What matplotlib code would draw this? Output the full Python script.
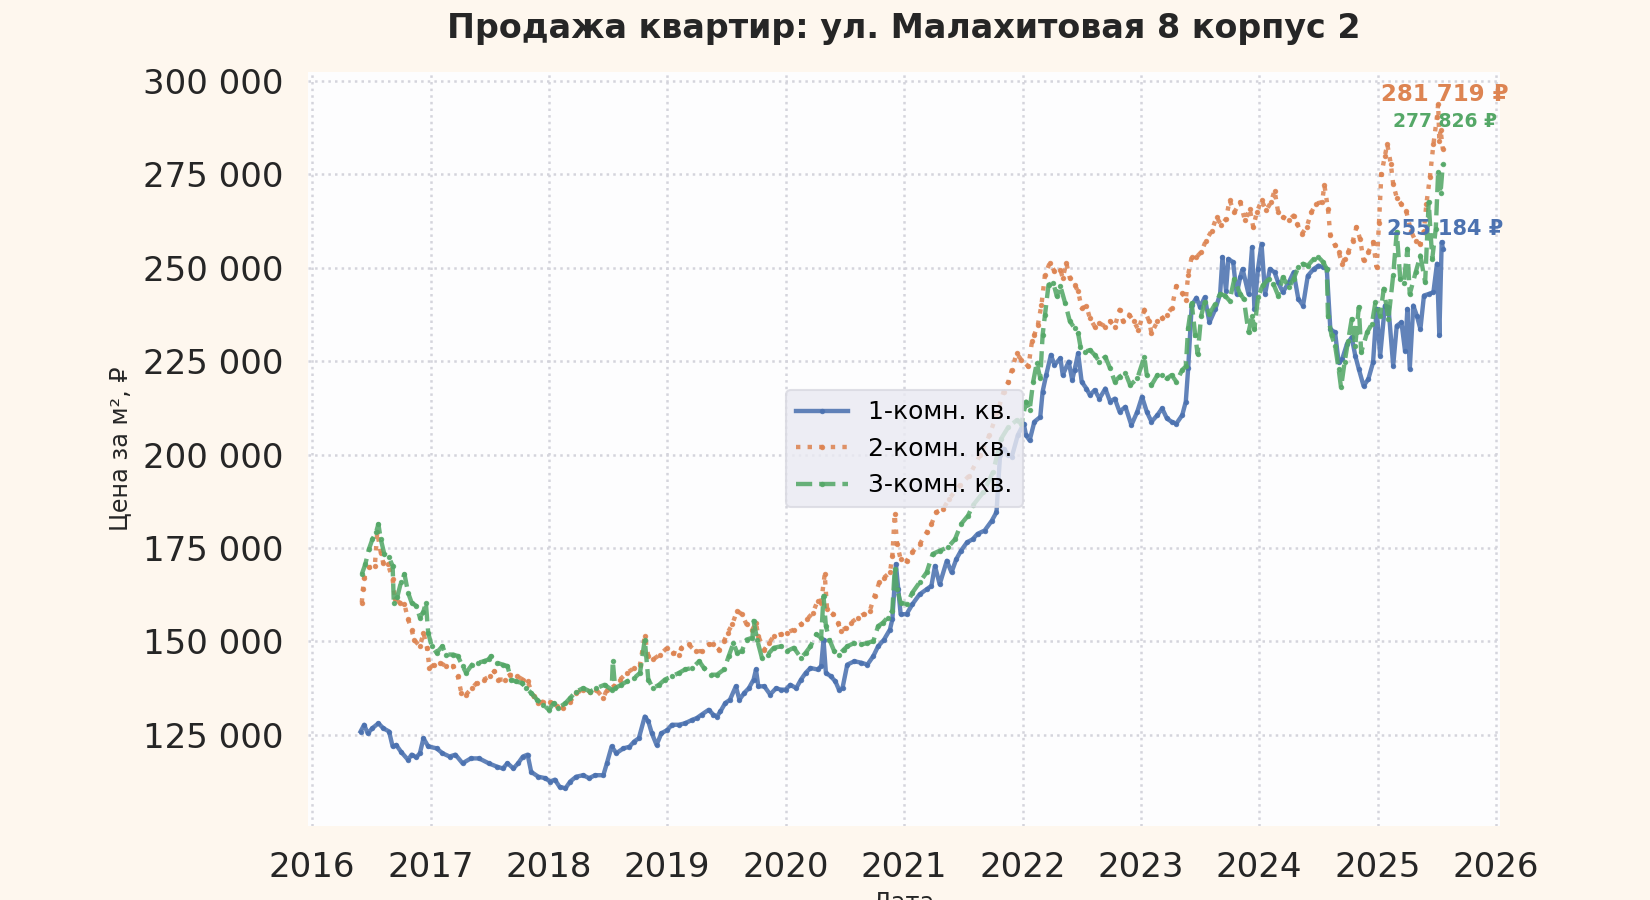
import matplotlib
matplotlib.use("Agg")
import matplotlib.pyplot as plt
import matplotlib.dates as mdates
import matplotlib.ticker as mticker
import pandas as pd
import numpy as np

TITLE = "Продажа квартир: ул. Малахитовая 8 корпус 2"
SERIES_NAMES = ["1-комн. кв.", "2-комн. кв.", "3-комн. кв."]
X_LABEL = "Дата"
Y_LABEL = "Цена за м², ₽"

# decimal-year time stamps and price per m2
one_room_t = [2016.41, 2016.44, 2016.47, 2016.51, 2016.56, 2016.60, 2016.65, 2016.68, 2016.71, 2016.75,
              2016.81, 2016.84, 2016.88, 2016.91, 2016.94, 2016.98, 2017.05, 2017.10, 2017.16, 2017.21,
              2017.27, 2017.34, 2017.41, 2017.49, 2017.56, 2017.61, 2017.65, 2017.70, 2017.74, 2017.78,
              2017.82, 2017.85, 2017.91, 2017.97, 2018.01, 2018.05, 2018.09, 2018.14, 2018.18, 2018.23,
              2018.29, 2018.34, 2018.39, 2018.46, 2018.49, 2018.53, 2018.57, 2018.63, 2018.68, 2018.72,
              2018.76, 2018.81, 2018.84, 2018.87, 2018.91, 2018.95, 2019.00, 2019.04, 2019.10, 2019.15,
              2019.21, 2019.25, 2019.29, 2019.35, 2019.39, 2019.42, 2019.45, 2019.49, 2019.53, 2019.58,
              2019.61, 2019.65, 2019.69, 2019.73, 2019.75, 2019.77, 2019.82, 2019.87, 2019.92, 2019.96,
              2020.00, 2020.04, 2020.09, 2020.13, 2020.17, 2020.21, 2020.27, 2020.30, 2020.32, 2020.34,
              2020.38, 2020.42, 2020.45, 2020.48, 2020.52, 2020.58, 2020.64, 2020.69, 2020.74, 2020.78,
              2020.83, 2020.88, 2020.90, 2020.93, 2020.95, 2020.97, 2021.02, 2021.07, 2021.13, 2021.19,
              2021.23, 2021.26, 2021.30, 2021.36, 2021.40, 2021.44, 2021.48, 2021.53, 2021.58, 2021.62,
              2021.68, 2021.74, 2021.78, 2021.81, 2021.84, 2021.88, 2021.91, 2021.96, 2022.01, 2022.03,
              2022.06, 2022.10, 2022.15, 2022.17, 2022.20, 2022.24, 2022.27, 2022.32, 2022.34, 2022.39,
              2022.42, 2022.44, 2022.47, 2022.50, 2022.54, 2022.57, 2022.61, 2022.65, 2022.70, 2022.74,
              2022.78, 2022.82, 2022.87, 2022.92, 2022.97, 2023.01, 2023.05, 2023.09, 2023.14, 2023.18,
              2023.22, 2023.26, 2023.30, 2023.35, 2023.38, 2023.40, 2023.43, 2023.47, 2023.50, 2023.54,
              2023.58, 2023.63, 2023.67, 2023.69, 2023.72, 2023.74, 2023.78, 2023.81, 2023.84, 2023.86,
              2023.91, 2023.94, 2023.96, 2023.99, 2024.02, 2024.05, 2024.09, 2024.13, 2024.16, 2024.20,
              2024.25, 2024.29, 2024.33, 2024.37, 2024.41, 2024.46, 2024.50, 2024.54, 2024.57, 2024.60,
              2024.64, 2024.67, 2024.70, 2024.74, 2024.78, 2024.81, 2024.84, 2024.88, 2024.92, 2024.96,
              2024.99, 2025.02, 2025.06, 2025.09, 2025.13, 2025.16, 2025.20, 2025.23, 2025.25, 2025.27,
              2025.30, 2025.33, 2025.36, 2025.39, 2025.43, 2025.47, 2025.50, 2025.52, 2025.54, 2025.55]
one_room_v = [125900, 127700, 125400, 126800, 128100, 126800, 125900, 121900, 122300, 120500,
              118300, 119700, 119000, 120100, 124100, 121900, 121400, 120100, 119200, 119700,
              117400, 118700, 118700, 117400, 116500, 116000, 117400, 116000, 117400, 119200,
              119700, 115100, 113800, 113400, 112500, 113000, 111100, 110700, 112500, 113800,
              114200, 113400, 114200, 114200, 117400, 121900, 120100, 121400, 121800, 123200,
              124100, 129900, 128600, 125400, 122300, 125400, 126300, 127700, 127700, 128100,
              129000, 129500, 130400, 131700, 130400, 129900, 131300, 133500, 134400, 138000,
              134400, 136200, 137500, 139800, 142500, 138000, 138000, 135800, 137500, 137100,
              137100, 138400, 137500, 139800, 141600, 142900, 142500, 143400, 150500, 141600,
              140700, 139300, 137100, 137500, 143800, 144700, 144300, 143800, 146100, 148700,
              150500, 153200, 155900, 170700, 164000, 157300, 157300, 160000, 162600, 164000,
              164900, 170200, 165300, 171600, 168500, 172000, 174300, 176500, 177400, 178800,
              179700, 182300, 184600, 199800, 201600, 200000, 199500, 205200, 208300, 205200,
              203800, 208800, 210100, 216900, 221300, 226700, 224000, 225800, 221300, 224900,
              220000, 222700, 227100, 219500, 217700, 215900, 217300, 215000, 217700, 214200,
              215000, 211500, 212800, 207900, 211500, 215500, 211500, 208800, 210600, 212400,
              209700, 208800, 208300, 210600, 214200, 223100, 240000, 242000, 239500, 242100,
              235400, 239000, 243000, 252900, 243900, 252400, 251500, 243000, 247500, 249700,
              243000, 255500, 239000, 249700, 256400, 243000, 249700, 248800, 246100, 243500,
              246100, 248800, 241700, 239900, 247900, 249700, 250600, 250200, 249700, 233600,
              232700, 224700, 225600, 229600, 231400, 226500, 222900, 218400, 220200, 224700,
              239000, 226500, 239900, 239500, 223800, 234500, 235400, 227800, 239000, 222900,
              239900, 237200, 233600, 242600, 243000, 243500, 251100, 231900, 256900, 255184]

two_room_t = [2016.42, 2016.43, 2016.44, 2016.48, 2016.53, 2016.55, 2016.58, 2016.60, 2016.64, 2016.68,
              2016.70, 2016.74, 2016.78, 2016.81, 2016.84, 2016.86, 2016.91, 2016.94, 2016.97, 2016.99,
              2017.03, 2017.08, 2017.13, 2017.19, 2017.23, 2017.26, 2017.30, 2017.35, 2017.39, 2017.45,
              2017.50, 2017.54, 2017.57, 2017.63, 2017.67, 2017.73, 2017.78, 2017.82, 2017.87, 2017.91,
              2017.95, 2018.01, 2018.07, 2018.12, 2018.18, 2018.23, 2018.29, 2018.35, 2018.40, 2018.46,
              2018.49, 2018.55, 2018.60, 2018.66, 2018.72, 2018.77, 2018.81, 2018.84, 2018.88, 2018.94,
              2019.00, 2019.05, 2019.10, 2019.12, 2019.18, 2019.24, 2019.29, 2019.35, 2019.39, 2019.44,
              2019.48, 2019.51, 2019.55, 2019.59, 2019.63, 2019.67, 2019.72, 2019.75, 2019.77, 2019.82,
              2019.86, 2019.90, 2019.96, 2020.01, 2020.07, 2020.13, 2020.18, 2020.23, 2020.27, 2020.30,
              2020.33, 2020.35, 2020.40, 2020.44, 2020.47, 2020.51, 2020.55, 2020.61, 2020.66, 2020.71,
              2020.75, 2020.79, 2020.83, 2020.88, 2020.90, 2020.92, 2020.94, 2020.97, 2021.02, 2021.07,
              2021.13, 2021.19, 2021.23, 2021.27, 2021.33, 2021.38, 2021.47, 2021.55, 2021.64, 2021.72,
              2021.79, 2021.84, 2021.88, 2021.91, 2021.95, 2021.99, 2022.05, 2022.08, 2022.10, 2022.13,
              2022.16, 2022.19, 2022.23, 2022.27, 2022.32, 2022.34, 2022.37, 2022.40, 2022.44, 2022.47,
              2022.50, 2022.54, 2022.57, 2022.61, 2022.65, 2022.70, 2022.74, 2022.78, 2022.82, 2022.85,
              2022.90, 2022.94, 2022.98, 2023.03, 2023.07, 2023.09, 2023.14, 2023.18, 2023.22, 2023.26,
              2023.30, 2023.35, 2023.38, 2023.40, 2023.43, 2023.47, 2023.51, 2023.55, 2023.60, 2023.64,
              2023.68, 2023.72, 2023.75, 2023.79, 2023.84, 2023.88, 2023.92, 2023.95, 2023.98, 2024.02,
              2024.06, 2024.10, 2024.13, 2024.16, 2024.20, 2024.25, 2024.29, 2024.32, 2024.36, 2024.40,
              2024.44, 2024.48, 2024.53, 2024.55, 2024.58, 2024.60, 2024.64, 2024.67, 2024.70, 2024.72,
              2024.75, 2024.79, 2024.82, 2024.85, 2024.88, 2024.92, 2024.96, 2024.99, 2025.01, 2025.03,
              2025.06, 2025.08, 2025.11, 2025.13, 2025.16, 2025.20, 2025.24, 2025.28, 2025.32, 2025.36,
              2025.39, 2025.41, 2025.44, 2025.47, 2025.50, 2025.51, 2025.52, 2025.53, 2025.55]
two_room_v = [160400, 164000, 167100, 169800, 170200, 179200, 173800, 171100, 170700, 166700,
              161300, 160400, 159900, 155900, 153200, 150500, 148700, 152300, 148300, 142900,
              143800, 144300, 143400, 143400, 140700, 136200, 135800, 137500, 138900, 139800,
              140700, 142000, 139800, 139800, 141100, 140700, 139800, 139300, 135300, 133500,
              133900, 133900, 132600, 132200, 133900, 136200, 137100, 136600, 137100, 134900,
              137100, 138000, 139800, 141600, 142900, 143800, 151400, 146100, 145200, 146500,
              148300, 147000, 146500, 148300, 149200, 147400, 147400, 149200, 149200, 147800,
              150100, 152300, 154600, 158200, 157300, 154600, 153200, 155000, 151400, 147800,
              149600, 151400, 151900, 152300, 153200, 154600, 155900, 157700, 160800, 160400,
              168000, 158600, 157300, 155000, 152800, 153700, 155000, 156400, 157300, 158200,
              162200, 165800, 167100, 168500, 172900, 184000, 176100, 172000, 171500, 174000,
              176000, 179200, 181400, 184600, 185500, 188200, 191800, 194400, 199800, 205200,
              211500, 216900, 219500, 222700, 227100, 225400, 223600, 230300, 232100, 234800,
              240100, 248200, 251300, 249100, 249500, 247300, 251300, 247300, 245500, 243700,
              239200, 239700, 236500, 234300, 235200, 234300, 235700, 234300, 238800, 235700,
              237500, 235700, 233400, 238800, 235700, 232500, 235700, 236500, 237500, 239200,
              245100, 243300, 241500, 248200, 253000, 252900, 254200, 257300, 260000, 263600,
              261400, 263100, 268100, 264900, 267600, 262700, 265800, 260900, 264900, 268100,
              265400, 267600, 270700, 264900, 263600, 262700, 264000, 261800, 259100, 260900,
              264900, 267200, 267600, 272100, 265800, 258700, 256000, 254200, 251100, 252400,
              254200, 257300, 260900, 257800, 252000, 254200, 256900, 250200, 262000, 275100,
              280000, 283100, 277800, 272400, 268800, 267000, 265200, 259900, 257100, 256400,
              260000, 267000, 274200, 283100, 290300, 293900, 284000, 287000, 281719]

three_room_t = [2016.42, 2016.45, 2016.48, 2016.51, 2016.54, 2016.56, 2016.58, 2016.61, 2016.65, 2016.68,
                2016.69, 2016.72, 2016.75, 2016.78, 2016.81, 2016.84, 2016.88, 2016.91, 2016.94, 2016.96,
                2016.98, 2017.01, 2017.05, 2017.10, 2017.13, 2017.19, 2017.23, 2017.27, 2017.30, 2017.35,
                2017.40, 2017.45, 2017.49, 2017.51, 2017.56, 2017.61, 2017.65, 2017.68, 2017.72, 2017.77,
                2017.81, 2017.85, 2017.90, 2017.95, 2018.00, 2018.04, 2018.08, 2018.14, 2018.18, 2018.23,
                2018.29, 2018.35, 2018.40, 2018.47, 2018.53, 2018.54, 2018.56, 2018.61, 2018.66, 2018.72,
                2018.77, 2018.81, 2018.84, 2018.88, 2018.93, 2018.98, 2019.04, 2019.10, 2019.15, 2019.21,
                2019.27, 2019.31, 2019.37, 2019.42, 2019.48, 2019.52, 2019.56, 2019.59, 2019.63, 2019.67,
                2019.72, 2019.73, 2019.76, 2019.80, 2019.85, 2019.90, 2019.96, 2020.01, 2020.07, 2020.13,
                2020.17, 2020.21, 2020.26, 2020.30, 2020.32, 2020.34, 2020.37, 2020.41, 2020.45, 2020.49,
                2020.52, 2020.58, 2020.64, 2020.69, 2020.74, 2020.78, 2020.82, 2020.86, 2020.90, 2020.92,
                2020.94, 2020.97, 2021.02, 2021.07, 2021.13, 2021.19, 2021.24, 2021.30, 2021.37, 2021.43,
                2021.48, 2021.54, 2021.58, 2021.67, 2021.75, 2021.82, 2021.88, 2021.95, 2021.99, 2022.03,
                2022.06, 2022.09, 2022.12, 2022.15, 2022.17, 2022.19, 2022.22, 2022.26, 2022.29, 2022.32,
                2022.36, 2022.40, 2022.44, 2022.47, 2022.49, 2022.53, 2022.57, 2022.61, 2022.65, 2022.70,
                2022.74, 2022.78, 2022.82, 2022.87, 2022.91, 2022.97, 2023.03, 2023.05, 2023.09, 2023.14,
                2023.18, 2023.22, 2023.26, 2023.30, 2023.35, 2023.38, 2023.40, 2023.43, 2023.46, 2023.48,
                2023.51, 2023.54, 2023.58, 2023.63, 2023.67, 2023.71, 2023.75, 2023.79, 2023.84, 2023.87,
                2023.91, 2023.94, 2023.96, 2023.99, 2024.03, 2024.08, 2024.12, 2024.16, 2024.20, 2024.25,
                2024.29, 2024.33, 2024.37, 2024.41, 2024.46, 2024.50, 2024.54, 2024.57, 2024.58, 2024.61,
                2024.64, 2024.67, 2024.69, 2024.72, 2024.75, 2024.78, 2024.81, 2024.84, 2024.86, 2024.91,
                2024.95, 2024.98, 2025.02, 2025.05, 2025.09, 2025.13, 2025.16, 2025.19, 2025.22, 2025.25,
                2025.27, 2025.32, 2025.36, 2025.40, 2025.43, 2025.46, 2025.49, 2025.51, 2025.53, 2025.55]
three_room_v = [168000, 170700, 174700, 177400, 179200, 181400, 177400, 173400, 172500, 170200,
                160400, 162000, 165800, 168000, 163100, 160400, 159500, 156400, 158000, 160400,
                152300, 148700, 147000, 148700, 146500, 146500, 146100, 143400, 141600, 143800,
                144300, 144700, 145200, 146100, 144300, 143800, 143400, 139800, 139300, 138900,
                137500, 136200, 134400, 133100, 131700, 133500, 132200, 133500, 134900, 136600,
                137500, 136600, 137500, 138400, 137100, 144700, 137500, 138400, 139300, 140200,
                141600, 150500, 139800, 137500, 138400, 139800, 140700, 141600, 142500, 142900,
                144700, 142900, 141100, 141100, 142500, 146100, 149600, 147000, 147400, 150500,
                151000, 155500, 150500, 145600, 146500, 148300, 148700, 147400, 148300, 145600,
                147000, 148700, 151900, 151000, 162200, 154100, 150500, 147400, 146500, 147800,
                148700, 149600, 149200, 149600, 150100, 154100, 155000, 156400, 158200, 169400,
                164000, 160400, 160000, 163100, 165800, 168500, 173400, 174300, 175200, 177400,
                181400, 183700, 186400, 190000, 195300, 204300, 207400, 209200, 208300, 214200,
                211900, 219500, 224500, 220500, 232100, 237500, 245500, 246000, 242400, 245100,
                240600, 235700, 233900, 232500, 228900, 227600, 228000, 226700, 224900, 226200,
                223100, 219500, 220900, 221800, 218600, 220400, 226200, 221300, 218600, 221300,
                221300, 220400, 221300, 219500, 222700, 223600, 234000, 240500, 231900, 226900,
                237200, 240800, 237700, 240400, 243000, 242600, 241200, 247000, 243000, 241700,
                232700, 237200, 233600, 242100, 245300, 247000, 245700, 242600, 247500, 244800,
                247000, 250200, 251100, 250600, 252400, 252900, 251500, 249700, 237200, 231900,
                229200, 222900, 218000, 224700, 230500, 236300, 229200, 239500, 227400, 232700,
                235000, 240800, 237200, 244400, 236300, 248000, 259600, 247000, 246000, 255100,
                243000, 248800, 253300, 246100, 267600, 252400, 260500, 275700, 270000, 277826]

COLORS = ["#4C72B0", "#DD8452", "#55A868"]
STYLES = ["-", ":", "--"]
LABEL_SIZES = [10, 11, 9]
LABEL_OFFSETS = [9.5, 26.5, 20.5]


def to_dates(years):
    out = []
    for y in years:
        yi = int(np.floor(y))
        start = pd.Timestamp(year=yi, month=1, day=1)
        end = pd.Timestamp(year=yi + 1, month=1, day=1)
        out.append(start + (end - start) * (y - yi))
    return pd.to_datetime(out)


BG = "#FEF7EE"
fig = plt.figure(figsize=(11, 6), dpi=150, facecolor=BG)
ax = fig.add_axes([0.1867, 0.0822, 0.9091 - 0.1867, 0.9203 - 0.0822])
ax.set_facecolor("#FDFDFE")
for s in ax.spines.values():
    s.set_visible(False)

series = [(one_room_t, one_room_v), (two_room_t, two_room_v), (three_room_t, three_room_v)]
for (t, v), name, c, ls, fs, off in zip(series, SERIES_NAMES, COLORS, STYLES, LABEL_SIZES, LABEL_OFFSETS):
    d = to_dates(t)
    ax.plot(d, v, ls, color=c, lw=2.1, alpha=0.88, marker="o", markersize=1.6, label=name, zorder=3)
    last = v[-1]
    ax.annotate(f"{last:,}".replace(",", " ") + " ₽", xy=(d[-1], last), xytext=(1, off),
                textcoords="offset points", ha="center", va="center", fontsize=fs,
                fontweight="bold", color=c, zorder=5)

ax.set_xlim(pd.Timestamp("2015-12-20"), pd.Timestamp("2026-01-13"))
ax.set_ylim(100600, 302500)
ax.xaxis.set_major_locator(mdates.YearLocator())
ax.xaxis.set_major_formatter(mdates.DateFormatter("%Y"))
ax.yaxis.set_major_locator(mticker.MultipleLocator(25000))
ax.yaxis.set_major_formatter(mticker.FuncFormatter(lambda v, p: f"{int(v):,}".replace(",", " ")))
ax.tick_params(axis="both", labelsize=16.3, length=0, pad=12, labelcolor="#262626")
ax.grid(True, linestyle=":", color="#D4D4DC", lw=1.2, zorder=0)

ax.set_title(TITLE, fontsize=16, fontweight="bold", color="#262626", pad=16)
ax.set_xlabel(X_LABEL, fontsize=11.5, color="#262626", labelpad=3.5)
ax.set_ylabel(Y_LABEL, fontsize=11.5, color="#262626", labelpad=5)

leg = ax.legend(loc="center", fontsize=12, frameon=True, facecolor="#EAEAF2", edgecolor="#D8D8E0",
                framealpha=0.8, numpoints=1, handlelength=2.1)

fig.savefig("out.png", dpi=150, facecolor=BG)
